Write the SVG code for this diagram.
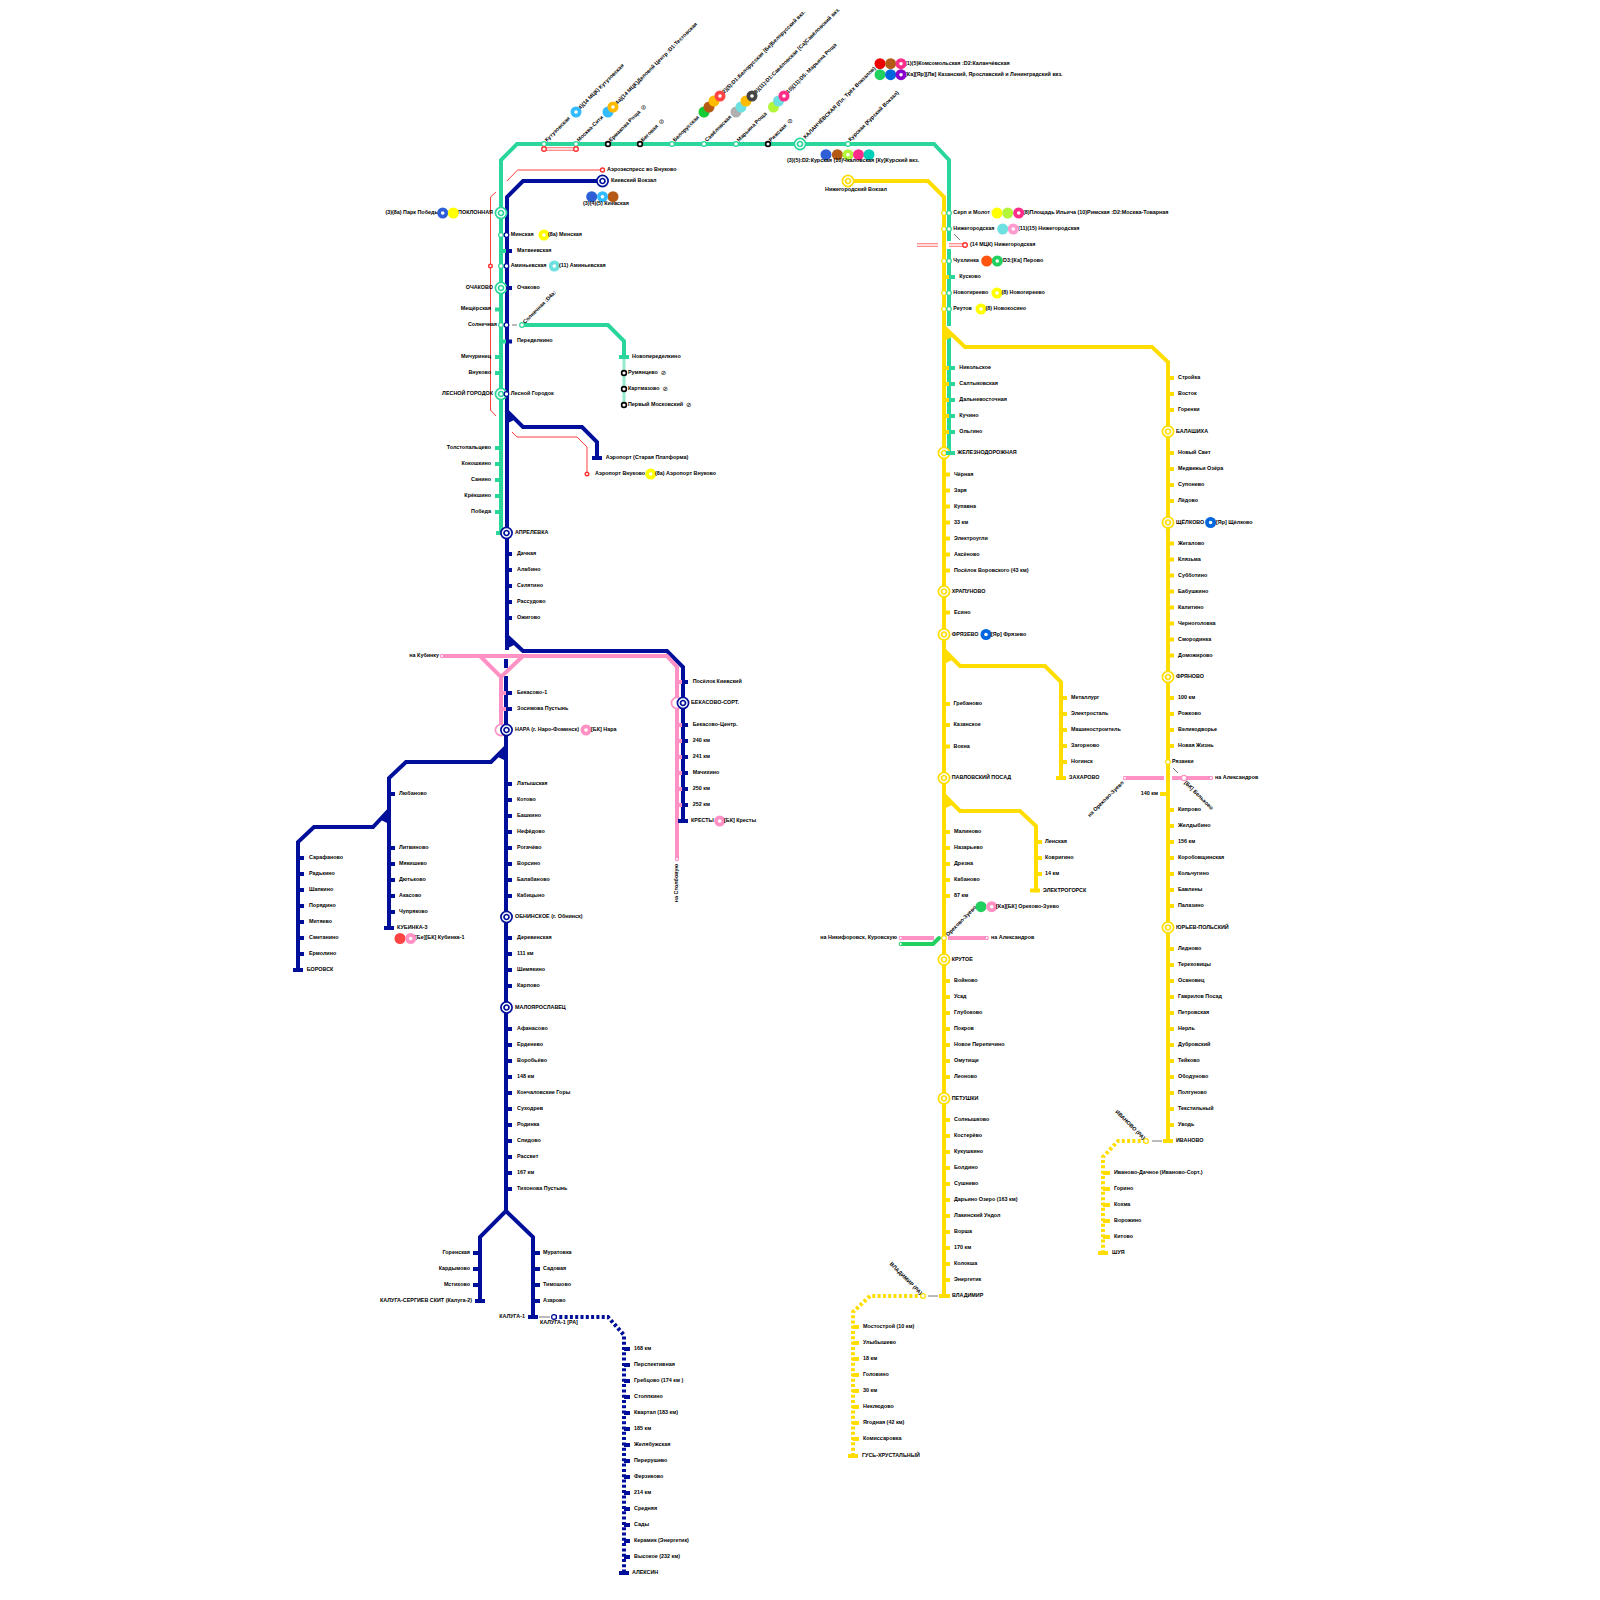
<svg xmlns="http://www.w3.org/2000/svg" width="1600" height="1600" viewBox="0 0 1600 1600">
<style>
text{font-family:"Liberation Sans",Arial,"DejaVu Sans",sans-serif;font-size:5.4px;font-weight:700;fill:#000;dominant-baseline:middle}
.no{font-family:"DejaVu Sans",sans-serif;font-size:6.5px;font-weight:400}
.e{text-anchor:end}.m{text-anchor:middle}
.ln,.tg,.tb,.ty,.tp,.dy,.db{fill:none;stroke-width:4}
.ln{stroke-linejoin:miter}
.gr,.tg{stroke:#2ad699}.bl,.tb,.db{stroke:#000f99}.ye,.ty,.dy{stroke:#ffdd00}.pi,.tp{stroke:#ff91c4}
.dy,.db{stroke-dasharray:3 2.3}
.pg{stroke:#2ad699;stroke-opacity:.5;stroke-width:3;fill:none}
.r1{fill:none;stroke:#ff4040;stroke-width:1}
.gy{fill:none;stroke:#777;stroke-width:1}
.mc{fill:none;stroke:#ff6a6a;stroke-width:3.4}.mw{fill:none;stroke:#fff;stroke-width:1.4}
.gn2{fill:none;stroke:#22d060;stroke-width:4;stroke-linecap:round}
.sg,.sb,.sy,.sp,.sr,.sk{fill:#fff;stroke-width:1.2}
.sg{stroke:#2ad699}.sb{stroke:#000f99}.sy{stroke:#ffdd00}.sp{stroke:#ff91c4}.sr{stroke:#ff3030;stroke-width:1.4}.sk{stroke:#000;stroke-width:1.6}
.dot{fill:#fff}
</style>
<defs>
<g id="rb"><circle r="5.6" fill="#fff" stroke="#000f99" stroke-width="1.7"/><circle r="2.5" fill="#fff" stroke="#000f99" stroke-width="1.7"/></g>
<g id="rg"><circle r="5.6" fill="#fff" stroke="#2ad699" stroke-width="1.7"/><circle r="2.5" fill="#fff" stroke="#2ad699" stroke-width="1.7"/></g>
<g id="ry"><circle r="5.6" fill="#fff" stroke="#ffdd00" stroke-width="1.7"/><circle r="2.5" fill="#fff" stroke="#ffdd00" stroke-width="1.7"/></g>
<g id="rp"><circle r="5.6" fill="#fff" stroke="#ff91c4" stroke-width="1.7"/></g>
</defs>
<g id="connectors">
<path class="ln gr" d="M501 533V160L517 144H934L949 160V241M949 249V326M949 334V453"/>
<path class="ln gr" d="M522 325H608L624 341V357"/>
<path class="pg" d="M624 359V405"/>
<path class="ln bl" d="M602 181H523L507 197V650M506 659V668M506 676V1211L480 1237V1301M506 1211L533 1237V1317"/>
<path class="ln bl" d="M506 410L523 427H582L597 442V458"/>
<path class="ln bl" d="M506 635L523 651H667L683 667V822"/>
<path class="ln bl" d="M506 747L491 762H406L389 778V928"/>
<path class="ln bl" d="M389 810L373 827H314L298 842V970"/>
<path d="M506 408L516 419L506 424ZM506 633L516 644L506 649ZM506 745L496 756L506 761ZM389 808L379 819L389 824Z" fill="#000f99"/>
<path class="ln pi" d="M442 656H667L677 667V859"/>
<path class="ln pi" d="M480 656L501 677L523 656M501 677V730"/>
<path class="ln ye" d="M848 181H928L944 197V1296"/>
<path class="ln ye" d="M944 327L965 347H1152L1168 362V1141"/>
<path class="ln ye" d="M944 650L960 666H1045L1061 682V778"/>
<path class="ln ye" d="M944 795L960 811H1020L1036 826V891"/>
<path d="M944 325L954 336L944 341ZM944 648L954 659L944 664ZM944 793L954 804L944 809Z" fill="#ffdd00"/>
<path class="dy" d="M1146 1141H1118L1103 1157V1253"/>
<path class="dy" d="M923 1296H870L853 1312V1456"/>
<path class="db" d="M554 1317H608L624 1335V1573"/>
<path class="gy" d="M1152 1141H1162M928 1296H938"/>
<path class="gy" d="M539 1317H550M512 325H517M954 234L960 240M1173 768L1178 773"/>
<path class="r1" d="M602 170H517.500L507 181M496 192L490.500 197V410L496 416M512 432L517 437H577L587 447V474"/>
<path class="mc" d="M544 149H576M917 245H938M949 245H965"/>
<path class="mw" d="M544 149H576M917 245H938M949 245H965"/>
<path class="ln pi" d="M900.700 938H934M948 938H986.700M1125 778H1164M1172 778H1211"/>
<path class="gn2" d="M901 944H933L939 938"/>
</g>
<g id="top-stations">
<g id="s1"><circle class="sg" cx="544" cy="144" r="2.300"/><text transform="rotate(-45 546 141)" x="546" y="141">Кутузовская</text></g>
<g id="s2"><circle class="sr" cx="544" cy="149" r="2.300"/></g>
<g id="s3"><text transform="rotate(-45 578 110)" x="578" y="110">(4)(14 МЦК) Кутузовская</text><circle cx="576" cy="112" r="5.500" fill="#33bbff"/><circle class="dot" cx="576" cy="112" r="1.800"/></g>
<g id="s4"><circle class="sg" cx="576" cy="144" r="2.300"/><text transform="rotate(-45 578 141)" x="578" y="141">Москва-Сити</text><circle class="sr" cx="576" cy="149" r="2.300"/></g>
<g id="s5"><text transform="rotate(-45 615 105)" x="615" y="105">(4а)(14 МЦК)Деловой Центр :D1:Тестовская</text><circle cx="608" cy="112" r="5.500" fill="#33bbff"/><circle cx="613" cy="107" r="5.500" fill="#ffbb00"/><circle class="dot" cx="613" cy="107" r="1.800"/></g>
<g id="s6"><circle class="sk" cx="608" cy="144" r="2.400"/><text transform="rotate(-45 610 141)" x="610" y="141">Ермакова Роща <tspan class="no" dx="1.500">⊘</tspan></text></g>
<g id="s7"><circle class="sk" cx="640" cy="144" r="2.400"/><text transform="rotate(-45 642 141)" x="642" y="141">Беговая <tspan class="no" dx="1.500">⊘</tspan></text></g>
<g id="s8"><circle class="sg" cx="672" cy="144" r="2.300"/><text transform="rotate(-45 674 141)" x="674" y="141">Белорусская</text></g>
<g id="s9"><text transform="rotate(-45 722 94)" x="722" y="94">(2)(5):D1:Белорусская [Бе]Белорусский вкз.</text><circle cx="704" cy="112" r="5.500" fill="#11cc33"/><circle cx="709" cy="107" r="5.500" fill="#b55a14"/><circle cx="714" cy="101" r="5.500" fill="#ffbb00"/><circle cx="720" cy="96" r="5.500" fill="#ff4444"/><circle class="dot" cx="720" cy="96" r="1.800"/></g>
<g id="s10"><circle class="sg" cx="704" cy="144" r="2.300"/><text transform="rotate(-45 706 141)" x="706" y="141">Савёловская</text></g>
<g id="s11"><text transform="rotate(-45 754 94)" x="754" y="94">(9)(11):D1:Савёловская [Са]Савёловский вкз.</text><circle cx="736" cy="112" r="5.500" fill="#b0b0b0"/><circle cx="741" cy="107" r="5.500" fill="#6fe0e0"/><circle cx="746" cy="101" r="5.500" fill="#ffbb00"/><circle cx="752" cy="96" r="5.500" fill="#444"/><circle class="dot" cx="752" cy="96" r="1.800"/></g>
<g id="s12"><circle class="sg" cx="736" cy="144" r="2.300"/><text transform="rotate(-45 738 141)" x="738" y="141">Марьина Роща</text></g>
<g id="s13"><text transform="rotate(-45 786 94)" x="786" y="94">(10)(11):D5: Марьина Роща</text><circle cx="773.500" cy="107" r="5.500" fill="#b3f53a"/><circle cx="778.500" cy="101" r="5.500" fill="#6fe0e0"/><circle cx="784" cy="96" r="5.500" fill="#ff2d8a"/><circle class="dot" cx="784" cy="96" r="1.800"/></g>
<g id="s14"><circle class="sk" cx="768" cy="144" r="2.400"/><text transform="rotate(-45 770 141)" x="770" y="141">Рижская <tspan class="no" dx="1.500">⊘</tspan></text></g>
<g id="s15"><use href="#rg" x="800" y="144"/><text transform="rotate(-45 804.500 138)" x="804.500" y="138">КАЛАНЧЁВСКАЯ (Пл. Трёх Вокзалов)</text></g>
<g id="s16"><circle class="sg" cx="848" cy="144" r="2.300"/><text transform="rotate(-45 849.500 140.500)" x="849.500" y="140.500">Курская (Курский Вокзал)</text></g>
<g id="s17"><circle cx="826" cy="154.700" r="5.500" fill="#2e5fd6"/><circle cx="837.400" cy="154.700" r="5.500" fill="#b55a14"/><circle cx="848" cy="154.700" r="5.500" fill="#b3f53a"/><circle class="dot" cx="848" cy="154.700" r="1.800"/><circle cx="858.500" cy="154.700" r="5.500" fill="#ff2d8a"/><circle cx="869" cy="154.700" r="5.500" fill="#00d0b8"/><text x="787" y="160.700">(3)(5):D2:Курская (10)Чкаловская [Ку]Курский вкз.</text></g>
<g id="s18"><text x="905" y="63.700">(1)(5)Комсомольская :D2:Каланчёвская</text><circle cx="880" cy="63.700" r="5.500" fill="#ee0000"/><circle cx="890.600" cy="63.700" r="5.500" fill="#b55a14"/><circle cx="901" cy="63.700" r="5.500" fill="#ff2d8a"/><circle class="dot" cx="901" cy="63.700" r="1.800"/></g>
<g id="s19"><text x="905" y="74.700">[Ка][Яр][Лв] Казанский, Ярославский и  Ленинградский вкз.</text><circle cx="880" cy="74.700" r="5.500" fill="#22d060"/><circle cx="890.600" cy="74.700" r="5.500" fill="#0066dd"/><circle cx="901" cy="74.700" r="5.500" fill="#8a00cc"/><circle class="dot" cx="901" cy="74.700" r="1.800"/></g>
<g id="s20"><circle class="sr" cx="602.500" cy="170" r="2"/><text x="607" y="170">Аэроэкспресс во Внуково</text></g>
<g id="s21"><use href="#rb" x="602.500" y="181"/><text x="611" y="181">Киевский Вокзал</text></g>
<g id="s22"><circle cx="591.700" cy="196.700" r="5.500" fill="#2e5fd6"/><circle cx="613" cy="196.700" r="5.500" fill="#b55a14"/><circle cx="602.500" cy="196.700" r="5.500" fill="#33bbff"/><circle class="dot" cx="602.500" cy="196.700" r="1.800"/><text class="m" x="606" y="203.500">(3)(4)(5) Киевская</text></g>
<g id="s23"><use href="#ry" x="848" y="181"/><text class="m" x="856" y="190">Нижегородский Вокзал</text></g>
</g>
<g id="green-west">
<g id="s24"><use href="#rg" x="501" y="213"/><text class="e" x="493" y="213">ПОКЛОННАЯ</text><text class="e" x="439" y="213">(3)(8а) Парк Победы</text><circle cx="442.700" cy="213" r="5.500" fill="#2e5fd6"/><circle class="dot" cx="442.700" cy="213" r="1.800"/><circle cx="453.300" cy="213" r="5.500" fill="#ffff00"/></g>
<g id="s25"><circle class="sg" cx="501" cy="235" r="2.300"/><circle class="sb" cx="506.500" cy="235" r="2.300"/><text x="510.700" y="234.700">Минская</text><circle cx="544" cy="235" r="5.500" fill="#ffff00"/><circle class="dot" cx="544" cy="235" r="1.800"/><text x="548" y="234.700">(8а) Минская</text></g>
<g id="s26"><path class="tg" d="M501 251h5"/><path class="tb" d="M506 251h6"/><text x="517" y="250.700">Матвеевская</text></g>
<g id="s27"><circle class="sg" cx="501" cy="266" r="2.300"/><circle class="sb" cx="506.500" cy="266" r="2.300"/><text x="510.700" y="266">Аминьевская</text><circle cx="554.300" cy="266" r="5.500" fill="#6fe0e0"/><circle class="dot" cx="554.300" cy="266" r="1.800"/><text x="559" y="266">(11) Аминьевская</text></g>
<g id="s28"><use href="#rg" x="501" y="288"/><text class="e" x="493" y="287.500">ОЧАКОВО</text><path class="tb" d="M506 288h6"/><text x="517" y="287.500">Очаково</text></g>
<g id="s29"><path class="tg" d="M495 309.500h6"/><text class="e" x="491" y="309">Мещёрская</text></g>
<g id="s30"><circle class="sg" cx="501" cy="325" r="2.300"/><circle class="sb" cx="506.500" cy="325" r="2.300"/><text class="e" x="497" y="325">Солнечная</text></g>
<g id="s31"><circle class="sg" cx="522" cy="325" r="2.300"/><text transform="rotate(-45 524 323)" x="524" y="323">Солнечная :D4а:</text></g>
<g id="s32"><path class="tg" d="M501 341.500h5"/><path class="tb" d="M506 341.500h6"/><text x="517" y="341">Переделкино</text></g>
<g id="s33"><path class="tg" d="M495 357h6"/><text class="e" x="491" y="357">Мичуринец</text></g>
<g id="s34"><path class="tg" d="M495 373h6"/><text class="e" x="491" y="373">Внуково</text></g>
<g id="s35"><use href="#rg" x="501" y="394"/><circle class="sb" cx="506.500" cy="394" r="2.300"/><text class="e" x="493" y="394">ЛЕСНОЙ ГОРОДОК</text><text x="510.700" y="394">Лесной Городок</text></g>
<g id="s36"><path class="tg" d="M495 448h6"/><text class="e" x="491" y="448">Толстопальцево</text></g>
<g id="s37"><path class="tg" d="M495 464h6"/><text class="e" x="491" y="464">Кокошкино</text></g>
<g id="s38"><path class="tg" d="M495 480h6"/><text class="e" x="491" y="480">Санино</text></g>
<g id="s39"><path class="tg" d="M495 496h6"/><text class="e" x="491" y="496">Крёкшино</text></g>
<g id="s40"><path class="tg" d="M495 512h6"/><text class="e" x="491" y="512">Победа</text></g>
<g id="s41"><path class="tg" d="M496 533h6"/><use href="#rb" x="506.500" y="533"/><text x="515" y="533">АПРЕЛЕВКА</text></g>
<g id="s42"><path class="tg" d="M619 357h10"/><text x="632" y="357">Новопеределкино</text></g>
<g id="s43"><circle class="sk" cx="624" cy="373" r="2.400"/><text x="628" y="373">Румянцево <tspan class="no" dx="1.500">⊘</tspan></text></g>
<g id="s44"><circle class="sk" cx="624" cy="389" r="2.400"/><text x="628" y="389">Картмазово <tspan class="no" dx="1.500">⊘</tspan></text></g>
<g id="s45"><circle class="sk" cx="624" cy="405" r="2.400"/><text x="628" y="405">Первый Московский <tspan class="no" dx="1.500">⊘</tspan></text></g>
<g id="s46"><path class="tb" d="M592 458h10"/><text x="605.700" y="458">Аэропорт (Старая Платформа)</text></g>
<g id="s47"><circle class="sr" cx="587" cy="474" r="1.800"/><text x="595" y="474">Аэропорт Внуково</text><circle cx="650.700" cy="474" r="5.500" fill="#ffff00"/><circle class="dot" cx="650.700" cy="474" r="1.800"/><text x="655" y="474">(8а) Аэропорт Внуково</text></g>
<g id="s47b"><circle class="sr" cx="490.500" cy="266" r="1.800"/></g>
</g>
<g id="blue-main">
<g id="b1"><path class="tb" d="M506 554h6"/><text x="517" y="554">Дачная</text></g>
<g id="b2"><path class="tb" d="M506 570h6"/><text x="517" y="570">Алабино</text></g>
<g id="b3"><path class="tb" d="M506 586h6"/><text x="517" y="586">Селятино</text></g>
<g id="b4"><path class="tb" d="M506 602h6"/><text x="517" y="602">Рассудово</text></g>
<g id="b5"><path class="tb" d="M506 618h6"/><text x="517" y="618">Ожигово</text></g>
<g id="b6"><path class="tp" d="M501 693h5"/><path class="tb" d="M506 693h6"/><text x="517" y="693">Бекасово-1</text></g>
<g id="b7"><path class="tp" d="M501 709h5"/><path class="tb" d="M506 709h6"/><text x="517" y="709">Зосимова Пустынь</text></g>
<g id="b8"><use href="#rp" x="501" y="730"/><use href="#rb" x="506.500" y="730"/><text x="515" y="730">НАРА (г. Наро-Фоминск)</text><circle cx="586" cy="730" r="5.500" fill="#ff91c4"/><circle class="dot" cx="586" cy="730" r="1.800"/><text x="591" y="730">[БК] Нара</text></g>
<g id="b9"><path class="tb" d="M506 784h6"/><text x="517" y="783.500">Латышская</text></g>
<g id="b10"><path class="tb" d="M506 800h6"/><text x="517" y="799.500">Котово</text></g>
<g id="b11"><path class="tb" d="M506 816h6"/><text x="517" y="815.500">Башкино</text></g>
<g id="b12"><path class="tb" d="M506 832h6"/><text x="517" y="831.500">Нефёдово</text></g>
<g id="b13"><path class="tb" d="M506 848h6"/><text x="517" y="847.500">Рогачёво</text></g>
<g id="b14"><path class="tb" d="M506 864h6"/><text x="517" y="863.500">Ворсино</text></g>
<g id="b15"><path class="tb" d="M506 880h6"/><text x="517" y="879.500">Балабаново</text></g>
<g id="b16"><path class="tb" d="M506 896h6"/><text x="517" y="895.500">Кабицыно</text></g>
<g id="b17"><use href="#rb" x="506.500" y="917"/><text x="515" y="917">ОБНИНСКОЕ (г. Обнинск)</text></g>
<g id="b18"><path class="tb" d="M506 938h6"/><text x="517" y="938">Деревенская</text></g>
<g id="b19"><path class="tb" d="M506 954h6"/><text x="517" y="954">111 км</text></g>
<g id="b20"><path class="tb" d="M506 970h6"/><text x="517" y="970">Шемякино</text></g>
<g id="b21"><path class="tb" d="M506 986h6"/><text x="517" y="986">Карпово</text></g>
<g id="b22"><use href="#rb" x="506.500" y="1007.500"/><text x="515" y="1007.500">МАЛОЯРОСЛАВЕЦ</text></g>
<g id="b23"><path class="tb" d="M506 1029h6"/><text x="517" y="1029">Афанасово</text></g>
<g id="b24"><path class="tb" d="M506 1045h6"/><text x="517" y="1045">Ерденево</text></g>
<g id="b25"><path class="tb" d="M506 1061h6"/><text x="517" y="1061">Воробьёво</text></g>
<g id="b26"><path class="tb" d="M506 1077h6"/><text x="517" y="1077">148 км</text></g>
<g id="b27"><path class="tb" d="M506 1093h6"/><text x="517" y="1093">Кончаловские Горы</text></g>
<g id="b28"><path class="tb" d="M506 1109h6"/><text x="517" y="1109">Суходрев</text></g>
<g id="b29"><path class="tb" d="M506 1125h6"/><text x="517" y="1125">Родинка</text></g>
<g id="b30"><path class="tb" d="M506 1141h6"/><text x="517" y="1141">Спидово</text></g>
<g id="b31"><path class="tb" d="M506 1157h6"/><text x="517" y="1157">Рассвет</text></g>
<g id="b32"><path class="tb" d="M506 1173h6"/><text x="517" y="1173">167 км</text></g>
<g id="b33"><path class="tb" d="M506 1189h6"/><text x="517" y="1189">Тихонова Пустынь</text></g>
<g id="b34"><path class="tb" d="M473 1253h7"/><text class="e" x="470" y="1253">Горенская</text></g>
<g id="b35"><path class="tb" d="M473 1269h7"/><text class="e" x="470" y="1269">Кардымово</text></g>
<g id="b36"><path class="tb" d="M473 1285h7"/><text class="e" x="470" y="1285">Мстихово</text></g>
<g id="b37"><path class="tb" d="M475 1301h10"/><text class="e" x="472" y="1301">КАЛУГА-СЕРГИЕВ СКИТ (Калуга-2)</text></g>
<g id="b38"><path class="tb" d="M533 1253h7"/><text x="543" y="1253">Муратовка</text></g>
<g id="b39"><path class="tb" d="M533 1269h7"/><text x="543" y="1269">Садовая</text></g>
<g id="b40"><path class="tb" d="M533 1285h7"/><text x="543" y="1285">Тимошово</text></g>
<g id="b41"><path class="tb" d="M533 1301h7"/><text x="543" y="1301">Азарово</text></g>
<g id="b42"><path class="tb" d="M528 1317h10"/><text class="e" x="525" y="1317">КАЛУГА-1</text></g>
<g id="b43"><circle class="sb" cx="554" cy="1317" r="2.400"/><text x="540" y="1323">КАЛУГА-1 [РА]</text></g>
</g>
<g id="blue-bekasovo">
<g id="k1"><path class="tp" d="M677 682h5"/><path class="tb" d="M683 682h5"/><text x="692.700" y="682">Посёлок Киевский</text></g>
<g id="k2"><use href="#rp" x="677" y="703"/><use href="#rb" x="683" y="703"/><text x="691" y="703">БЕКАСОВО-СОРТ.</text></g>
<g id="k3"><path class="tp" d="M677 725h5"/><path class="tb" d="M683 725h5"/><text x="692.700" y="725">Бекасово-Центр.</text></g>
<g id="k4"><path class="tp" d="M677 741h5"/><path class="tb" d="M683 741h5"/><text x="692.700" y="741">240 км</text></g>
<g id="k5"><path class="tp" d="M677 757h5"/><path class="tb" d="M683 757h5"/><text x="692.700" y="757">241 км</text></g>
<g id="k6"><path class="tp" d="M677 773h5"/><path class="tb" d="M683 773h5"/><text x="692.700" y="773">Мачихино</text></g>
<g id="k7"><path class="tp" d="M677 789h5"/><path class="tb" d="M683 789h5"/><text x="692.700" y="789">250 км</text></g>
<g id="k8"><path class="tp" d="M677 805h5"/><path class="tb" d="M683 805h5"/><text x="692.700" y="805">252 км</text></g>
<g id="k9"><path class="tb" d="M678 821h10"/><text x="691" y="821">КРЕСТЫ</text><circle cx="719.700" cy="821" r="5.500" fill="#ff91c4"/><circle class="dot" cx="719.700" cy="821" r="1.800"/><text x="724" y="821">[БК] Кресты</text></g>
<g id="k10"><circle class="sp" cx="677" cy="859" r="1.600"/><text class="e" transform="rotate(-90 677 864)" x="677" y="864">на Столбовую</text></g>
<g id="k11"><circle class="sp" cx="442" cy="656" r="1.600"/><text class="e" x="439" y="656">на Кубинку</text></g>
</g>
<g id="blue-kubinka">
<g id="u1"><path class="tb" d="M389 794h6"/><text x="399" y="794">Любаново</text></g>
<g id="u2"><path class="tb" d="M389 848h6"/><text x="399" y="848">Литвиново</text></g>
<g id="u3"><path class="tb" d="M389 864h6"/><text x="399" y="864">Мякишево</text></g>
<g id="u4"><path class="tb" d="M389 880h6"/><text x="399" y="880">Дютьково</text></g>
<g id="u5"><path class="tb" d="M389 896h6"/><text x="399" y="896">Акасово</text></g>
<g id="u6"><path class="tb" d="M389 912h6"/><text x="399" y="912">Чупряково</text></g>
<g id="u7"><path class="tb" d="M384 928h10"/><text x="397" y="928">КУБИНКА-3</text><text x="415" y="938">[Бе][БК] Кубинка-1</text><circle cx="400" cy="938.500" r="5.500" fill="#ff4444"/><circle cx="410.700" cy="938.500" r="5.500" fill="#ff91c4"/><circle class="dot" cx="410.700" cy="938.500" r="1.800"/></g>
<g id="u8"><path class="tb" d="M298 858h6"/><text x="309" y="858">Сарафаново</text></g>
<g id="u9"><path class="tb" d="M298 874h6"/><text x="309" y="874">Радькино</text></g>
<g id="u10"><path class="tb" d="M298 890h6"/><text x="309" y="890">Шапкино</text></g>
<g id="u11"><path class="tb" d="M298 906h6"/><text x="309" y="906">Порядино</text></g>
<g id="u12"><path class="tb" d="M298 922h6"/><text x="309" y="922">Митяево</text></g>
<g id="u13"><path class="tb" d="M298 938h6"/><text x="309" y="938">Сметанино</text></g>
<g id="u14"><path class="tb" d="M298 954h6"/><text x="309" y="954">Ермолино</text></g>
<g id="u15"><path class="tb" d="M293 970h10"/><text x="306.700" y="970">БОРОВСК</text></g>
</g>
<g id="blue-aleksin">
<g id="a1"><path class="tb" d="M624 1349h6"/><text x="634" y="1349">168 км</text></g>
<g id="a2"><path class="tb" d="M624 1365h6"/><text x="634" y="1365">Перспективная</text></g>
<g id="a3"><path class="tb" d="M624 1381h6"/><text x="634" y="1381">Гребцово (174 км )</text></g>
<g id="a4"><path class="tb" d="M624 1397h6"/><text x="634" y="1397">Столпкино</text></g>
<g id="a5"><path class="tb" d="M624 1413h6"/><text x="634" y="1413">Квартал (183 км)</text></g>
<g id="a6"><path class="tb" d="M624 1429h6"/><text x="634" y="1429">185 км</text></g>
<g id="a7"><path class="tb" d="M624 1445h6"/><text x="634" y="1445">Желябужская</text></g>
<g id="a8"><path class="tb" d="M624 1461h6"/><text x="634" y="1461">Перерушево</text></g>
<g id="a9"><path class="tb" d="M624 1477h6"/><text x="634" y="1477">Ферзиково</text></g>
<g id="a10"><path class="tb" d="M624 1493h6"/><text x="634" y="1493">214 км</text></g>
<g id="a11"><path class="tb" d="M624 1509h6"/><text x="634" y="1509">Средняя</text></g>
<g id="a12"><path class="tb" d="M624 1525h6"/><text x="634" y="1525">Сады</text></g>
<g id="a13"><path class="tb" d="M624 1541h6"/><text x="634" y="1541">Керамик (Энергетик)</text></g>
<g id="a14"><path class="tb" d="M624 1557h6"/><text x="634" y="1557">Высокое (232 км)</text></g>
<g id="a15"><path class="tb" d="M619 1573h10"/><text x="632" y="1573">АЛЕКСИН</text></g>
</g>
<g id="yellow-main">
<g id="y1"><circle class="sy" cx="944" cy="213" r="2.300"/><circle class="sg" cx="949" cy="213" r="2.300"/><text x="953.300" y="213">Серп и Молот</text><text x="1023" y="213">(8)Площадь Ильича (10)Римская :D2:Москва-Товарная</text><circle cx="997" cy="213" r="5.500" fill="#ffff00"/><circle cx="1007.700" cy="213" r="5.500" fill="#b3f53a"/><circle cx="1018.700" cy="213" r="5.500" fill="#ff2d8a"/><circle class="dot" cx="1018.700" cy="213" r="1.800"/></g>
<g id="y2"><circle class="sy" cx="944" cy="229" r="2.300"/><circle class="sg" cx="949" cy="229" r="2.300"/><text x="953.300" y="229">Нижегородская</text><text x="1018" y="229">(11)(15) Нижегородская</text><circle cx="1002.700" cy="229" r="5.500" fill="#6fe0e0"/><circle cx="1013.300" cy="229" r="5.500" fill="#ff9ad0"/><circle class="dot" cx="1013.300" cy="229" r="1.800"/></g>
<g id="y3"><circle class="sr" cx="965" cy="245" r="2.300"/><text x="970" y="245">(14 МЦК) Нижегородская</text></g>
<g id="y4"><circle class="sy" cx="944" cy="261" r="2.300"/><circle class="sg" cx="949" cy="261" r="2.300"/><text x="953.300" y="261">Чухлинка</text><text x="1001.300" y="261">:D3:[Ка] Перово</text><circle cx="986.700" cy="261" r="5.500" fill="#ff5510"/><circle cx="997.300" cy="261" r="5.500" fill="#22d060"/><circle class="dot" cx="997.300" cy="261" r="1.800"/></g>
<g id="y5"><path class="ty" d="M944 277h5"/><path class="tg" d="M949 277h6"/><text x="959.300" y="277">Кусково</text></g>
<g id="y6"><circle class="sy" cx="944" cy="293" r="2.300"/><circle class="sg" cx="949" cy="293" r="2.300"/><text x="953.300" y="293">Новогиреево</text><circle cx="997" cy="293" r="5.500" fill="#ffff00"/><circle class="dot" cx="997" cy="293" r="1.800"/><text x="1001.500" y="293">(8) Новогиреево</text></g>
<g id="y7"><circle class="sy" cx="944" cy="309" r="2.300"/><circle class="sg" cx="949" cy="309" r="2.300"/><text x="953.300" y="309">Реутов</text><circle cx="981" cy="309" r="5.500" fill="#ffff00"/><circle class="dot" cx="981" cy="309" r="1.800"/><text x="985.500" y="309">(8) Новокосино</text></g>
<g id="y8"><path class="ty" d="M944 368h5"/><path class="tg" d="M949 368h6"/><text x="959.300" y="368">Никольское</text></g>
<g id="y9"><path class="ty" d="M944 384h5"/><path class="tg" d="M949 384h6"/><text x="959.300" y="384">Салтыковская</text></g>
<g id="y10"><path class="ty" d="M944 400h5"/><path class="tg" d="M949 400h6"/><text x="959.300" y="400">Дальневосточная</text></g>
<g id="y11"><path class="ty" d="M944 416h5"/><path class="tg" d="M949 416h6"/><text x="959.300" y="416">Кучино</text></g>
<g id="y12"><path class="ty" d="M944 432h5"/><path class="tg" d="M949 432h6"/><text x="959.300" y="432">Ольгино</text></g>
<g id="y13"><use href="#ry" x="944" y="453"/><path class="tg" d="M946 453h9"/><text x="957.300" y="453">ЖЕЛЕЗНОДОРОЖНАЯ</text></g>
<g id="y14"><path class="ty" d="M944 474.500h6"/><text x="954" y="474.500">Чёрная</text></g>
<g id="y15"><path class="ty" d="M944 490.500h6"/><text x="954" y="490.500">Заря</text></g>
<g id="y16"><path class="ty" d="M944 506.500h6"/><text x="954" y="506.500">Купавна</text></g>
<g id="y17"><path class="ty" d="M944 522.500h6"/><text x="954" y="522.500">33 км</text></g>
<g id="y18"><path class="ty" d="M944 538.500h6"/><text x="954" y="538.500">Электроугли</text></g>
<g id="y19"><path class="ty" d="M944 554.500h6"/><text x="954" y="554.500">Аксёново</text></g>
<g id="y20"><path class="ty" d="M944 570.500h6"/><text x="954" y="570.500">Посёлок Воровского (43 км)</text></g>
<g id="y21"><use href="#ry" x="944" y="591.500"/><text x="951.700" y="591.500">ХРАПУНОВО</text></g>
<g id="y22"><path class="ty" d="M944 612.500h6"/><text x="954" y="612.500">Есино</text></g>
<g id="y23"><use href="#ry" x="944" y="634.500"/><text x="951.700" y="634.500">ФРЯЗЕВО</text><circle cx="986" cy="634.500" r="5.500" fill="#0066dd"/><circle class="dot" cx="986" cy="634.500" r="1.800"/><text x="991" y="634.500">[Яр] Фрязево</text></g>
<g id="y24"><path class="ty" d="M944 704h6"/><text x="953.500" y="703.500">Гребаново</text></g>
<g id="y25"><path class="ty" d="M944 725h6"/><text x="953.500" y="725">Казанское</text></g>
<g id="y26"><path class="ty" d="M944 746.500h6"/><text x="953.500" y="746.500">Вохна</text></g>
<g id="y27"><use href="#ry" x="944" y="778"/><text x="951.700" y="778">ПАВЛОВСКИЙ ПОСАД</text></g>
<g id="y28"><path class="ty" d="M944 832h6"/><text x="954" y="832">Малиново</text></g>
<g id="y29"><path class="ty" d="M944 848h6"/><text x="954" y="848">Назарьево</text></g>
<g id="y30"><path class="ty" d="M944 864h6"/><text x="954" y="864">Дрезна</text></g>
<g id="y31"><path class="ty" d="M944 880h6"/><text x="954" y="880">Кабаново</text></g>
<g id="y32"><path class="ty" d="M944 896h6"/><text x="954" y="896">87 км</text></g>
<g id="y33"><circle class="sy" cx="944" cy="938" r="2.300"/><text transform="rotate(-45 947 935.500)" x="947" y="935.500">Орехово-Зуево</text><circle cx="981" cy="906.700" r="5.500" fill="#22d060"/><circle cx="991.700" cy="906.700" r="5.500" fill="#ff91c4"/><circle class="dot" cx="991.700" cy="906.700" r="1.800"/><text x="996" y="906.700">[Ка][БК] Орехово-Зуево</text></g>
<g id="y34"><circle class="sp" cx="986.700" cy="938" r="1.600"/><text x="991" y="938">на Александров</text></g>
<g id="y35"><circle class="sp" cx="900.700" cy="938" r="1.600"/><circle cx="900.700" cy="944" r="1.600" fill="#fff" stroke="#22d060" stroke-width="1"/><text class="e" x="897" y="938">на Никифоровск, Куровскую</text></g>
<g id="y36"><use href="#ry" x="944" y="959.500"/><text x="951.700" y="959.500">КРУТОЕ</text></g>
<g id="y37"><path class="ty" d="M944 981h6"/><text x="954" y="981">Войново</text></g>
<g id="y38"><path class="ty" d="M944 997h6"/><text x="954" y="997">Усад</text></g>
<g id="y39"><path class="ty" d="M944 1013h6"/><text x="954" y="1013">Глубоково</text></g>
<g id="y40"><path class="ty" d="M944 1029h6"/><text x="954" y="1029">Покров</text></g>
<g id="y41"><path class="ty" d="M944 1045h6"/><text x="954" y="1045">Новое Перепечино</text></g>
<g id="y42"><path class="ty" d="M944 1061h6"/><text x="954" y="1061">Омутище</text></g>
<g id="y43"><path class="ty" d="M944 1077h6"/><text x="954" y="1077">Леоново</text></g>
<g id="y44"><use href="#ry" x="944" y="1098.500"/><text x="951.700" y="1098.500">ПЕТУШКИ</text></g>
<g id="y45"><path class="ty" d="M944 1120h6"/><text x="954" y="1120">Солнышково</text></g>
<g id="y46"><path class="ty" d="M944 1136h6"/><text x="954" y="1136">Костерёво</text></g>
<g id="y47"><path class="ty" d="M944 1152h6"/><text x="954" y="1152">Кукушкино</text></g>
<g id="y48"><path class="ty" d="M944 1168h6"/><text x="954" y="1168">Болдино</text></g>
<g id="y49"><path class="ty" d="M944 1184h6"/><text x="954" y="1184">Сушнево</text></g>
<g id="y50"><path class="ty" d="M944 1200h6"/><text x="954" y="1200">Дарьино Озеро (163 км)</text></g>
<g id="y51"><path class="ty" d="M944 1216h6"/><text x="954" y="1216">Лакинский Ундол</text></g>
<g id="y52"><path class="ty" d="M944 1232h6"/><text x="954" y="1232">Ворша</text></g>
<g id="y53"><path class="ty" d="M944 1248h6"/><text x="954" y="1248">170 км</text></g>
<g id="y54"><path class="ty" d="M944 1264h6"/><text x="954" y="1264">Колокша</text></g>
<g id="y55"><path class="ty" d="M944 1280h6"/><text x="954" y="1280">Энергетик</text></g>
<g id="y56"><path class="ty" d="M939 1296h11"/><text x="952" y="1296">ВЛАДИМИР</text></g>
<g id="y57"><circle class="sy" cx="923" cy="1296" r="2.400"/><text class="e" transform="rotate(45 921 1294)" x="921" y="1294">ВЛАДИМИР (РА)</text></g>
<g id="v1"><path class="ty" d="M853 1327h6"/><text x="863" y="1327">Мостострой (10 км)</text></g>
<g id="v2"><path class="ty" d="M853 1343h6"/><text x="863" y="1343">Улыбышево</text></g>
<g id="v3"><path class="ty" d="M853 1359h6"/><text x="863" y="1359">18 км</text></g>
<g id="v4"><path class="ty" d="M853 1375h6"/><text x="863" y="1375">Головино</text></g>
<g id="v5"><path class="ty" d="M853 1391h6"/><text x="863" y="1391">30 км</text></g>
<g id="v6"><path class="ty" d="M853 1407h6"/><text x="863" y="1407">Неклюдово</text></g>
<g id="v7"><path class="ty" d="M853 1423h6"/><text x="863" y="1423">Ягодная (42 км)</text></g>
<g id="v8"><path class="ty" d="M853 1439h6"/><text x="863" y="1439">Комиссаровка</text></g>
<g id="v9"><path class="ty" d="M848 1456h10"/><text x="862" y="1456">ГУСЬ-ХРУСТАЛЬНЫЙ</text></g>
</g>
<g id="yellow-branches">
<g id="z1"><path class="ty" d="M1061 698h6"/><text x="1071" y="698">Металлург</text></g>
<g id="z2"><path class="ty" d="M1061 714h6"/><text x="1071" y="714">Электросталь</text></g>
<g id="z3"><path class="ty" d="M1061 730h6"/><text x="1071" y="730">Машиностроитель</text></g>
<g id="z4"><path class="ty" d="M1061 746h6"/><text x="1071" y="746">Загорново</text></g>
<g id="z5"><path class="ty" d="M1061 762h6"/><text x="1071" y="762">Ногинск</text></g>
<g id="z6"><path class="ty" d="M1056 778h10"/><text x="1069" y="778">ЗАХАРОВО</text></g>
<g id="z7"><path class="ty" d="M1036 842h6"/><text x="1045" y="842">Ленская</text></g>
<g id="z8"><path class="ty" d="M1036 858h6"/><text x="1045" y="858">Ковригино</text></g>
<g id="z9"><path class="ty" d="M1036 874h6"/><text x="1045" y="874">14 км</text></g>
<g id="z10"><path class="ty" d="M1030 890.500h10"/><text x="1043" y="890.500">ЭЛЕКТРОГОРСК</text></g>
</g>
<g id="yellow-east">
<g id="x1"><path class="ty" d="M1168 378h6"/><text x="1178" y="378">Стройка</text></g>
<g id="x2"><path class="ty" d="M1168 394h6"/><text x="1178" y="394">Восток</text></g>
<g id="x3"><path class="ty" d="M1168 410h6"/><text x="1178" y="410">Горенки</text></g>
<g id="x4"><use href="#ry" x="1168" y="431.500"/><text x="1176" y="431.500">БАЛАШИХА</text></g>
<g id="x5"><path class="ty" d="M1168 453h6"/><text x="1178" y="453">Новый Свет</text></g>
<g id="x6"><path class="ty" d="M1168 469h6"/><text x="1178" y="469">Медвежьи Озёра</text></g>
<g id="x7"><path class="ty" d="M1168 485h6"/><text x="1178" y="485">Супонево</text></g>
<g id="x8"><path class="ty" d="M1168 501h6"/><text x="1178" y="501">Лёдово</text></g>
<g id="x9"><use href="#ry" x="1168" y="522.500"/><text x="1176" y="522.500">ЩЁЛКОВО</text><circle cx="1210.600" cy="522.500" r="5.500" fill="#0066dd"/><circle class="dot" cx="1210.600" cy="522.500" r="1.800"/><text x="1216" y="522.500">[Яр] Щёлково</text></g>
<g id="x10"><path class="ty" d="M1168 543.500h6"/><text x="1178" y="543.500">Жегалово</text></g>
<g id="x11"><path class="ty" d="M1168 559.500h6"/><text x="1178" y="559.500">Клязьма</text></g>
<g id="x12"><path class="ty" d="M1168 575.500h6"/><text x="1178" y="575.500">Субботино</text></g>
<g id="x13"><path class="ty" d="M1168 591.500h6"/><text x="1178" y="591.500">Бабушкино</text></g>
<g id="x14"><path class="ty" d="M1168 607.500h6"/><text x="1178" y="607.500">Калитино</text></g>
<g id="x15"><path class="ty" d="M1168 623.500h6"/><text x="1178" y="623.500">Черноголовка</text></g>
<g id="x16"><path class="ty" d="M1168 639.500h6"/><text x="1178" y="639.500">Смородинка</text></g>
<g id="x17"><path class="ty" d="M1168 655.500h6"/><text x="1178" y="655.500">Доможирово</text></g>
<g id="x18"><use href="#ry" x="1168" y="677"/><text x="1176" y="677">ФРЯНОВО</text></g>
<g id="x19"><path class="ty" d="M1168 698h6"/><text x="1178" y="698">100 км</text></g>
<g id="x20"><path class="ty" d="M1168 714h6"/><text x="1178" y="714">Рожково</text></g>
<g id="x21"><path class="ty" d="M1168 730h6"/><text x="1178" y="730">Великодворье</text></g>
<g id="x22"><path class="ty" d="M1168 746h6"/><text x="1178" y="746">Новая Жизнь</text></g>
<g id="x23"><circle class="sy" cx="1168" cy="762" r="2.300"/><text x="1172" y="762">Рязанки</text></g>
<g id="x24"><circle class="sp" cx="1184" cy="778" r="2.600"/><circle class="sp" cx="1211" cy="778" r="1.600"/><text x="1215" y="778">на Александров</text><text transform="rotate(45 1185 782)" x="1185" y="782">[БК] Бельково</text></g>
<g id="x25"><circle class="sp" cx="1125" cy="778" r="1.600"/><text class="e" transform="rotate(-45 1123 782)" x="1123" y="782">на Орехово-Зуево</text></g>
<g id="x26"><path class="ty" d="M1160 794h8"/><text class="e" x="1158" y="794">140 км</text></g>
<g id="x27"><path class="ty" d="M1168 810h6"/><text x="1178" y="810">Кипрово</text></g>
<g id="x28"><path class="ty" d="M1168 826h6"/><text x="1178" y="826">Желдыбино</text></g>
<g id="x29"><path class="ty" d="M1168 842h6"/><text x="1178" y="842">156 км</text></g>
<g id="x30"><path class="ty" d="M1168 858h6"/><text x="1178" y="858">Коробовщинская</text></g>
<g id="x31"><path class="ty" d="M1168 874h6"/><text x="1178" y="874">Кольчугино</text></g>
<g id="x32"><path class="ty" d="M1168 890h6"/><text x="1178" y="890">Бавлены</text></g>
<g id="x33"><path class="ty" d="M1168 906h6"/><text x="1178" y="906">Палазино</text></g>
<g id="x34"><use href="#ry" x="1168" y="927.500"/><text x="1176" y="927.500">ЮРЬЕВ-ПОЛЬСКИЙ</text></g>
<g id="x35"><path class="ty" d="M1168 949h6"/><text x="1178" y="949">Ледново</text></g>
<g id="x36"><path class="ty" d="M1168 965h6"/><text x="1178" y="965">Тереховицы</text></g>
<g id="x37"><path class="ty" d="M1168 981h6"/><text x="1178" y="981">Осановец</text></g>
<g id="x38"><path class="ty" d="M1168 997h6"/><text x="1178" y="997">Гаврилов Посад</text></g>
<g id="x39"><path class="ty" d="M1168 1013h6"/><text x="1178" y="1013">Петровская</text></g>
<g id="x40"><path class="ty" d="M1168 1029h6"/><text x="1178" y="1029">Нерль</text></g>
<g id="x41"><path class="ty" d="M1168 1045h6"/><text x="1178" y="1045">Дубровский</text></g>
<g id="x42"><path class="ty" d="M1168 1061h6"/><text x="1178" y="1061">Тейково</text></g>
<g id="x43"><path class="ty" d="M1168 1077h6"/><text x="1178" y="1077">Ободуново</text></g>
<g id="x44"><path class="ty" d="M1168 1093h6"/><text x="1178" y="1093">Полгуново</text></g>
<g id="x45"><path class="ty" d="M1168 1109h6"/><text x="1178" y="1109">Текстильный</text></g>
<g id="x46"><path class="ty" d="M1168 1125h6"/><text x="1178" y="1125">Уводь</text></g>
<g id="x47"><path class="ty" d="M1163 1141h10"/><text x="1176" y="1141">ИВАНОВО</text></g>
<g id="x48"><circle class="sy" cx="1146" cy="1141" r="2.400"/><text class="e" transform="rotate(45 1144 1139)" x="1144" y="1139">ИВАНОВО (РА)</text></g>
<g id="w1"><path class="ty" d="M1103 1173h7"/><text x="1114" y="1173">Иваново-Дачное (Иваново-Сорт.)</text></g>
<g id="w2"><path class="ty" d="M1103 1189h7"/><text x="1114" y="1189">Горино</text></g>
<g id="w3"><path class="ty" d="M1103 1205h7"/><text x="1114" y="1205">Кохма</text></g>
<g id="w4"><path class="ty" d="M1103 1221h7"/><text x="1114" y="1221">Ворожино</text></g>
<g id="w5"><path class="ty" d="M1103 1237h7"/><text x="1114" y="1237">Китово</text></g>
<g id="w6"><path class="ty" d="M1098 1253h10"/><text x="1112" y="1253">ШУЯ</text></g>
</g>
</svg>
